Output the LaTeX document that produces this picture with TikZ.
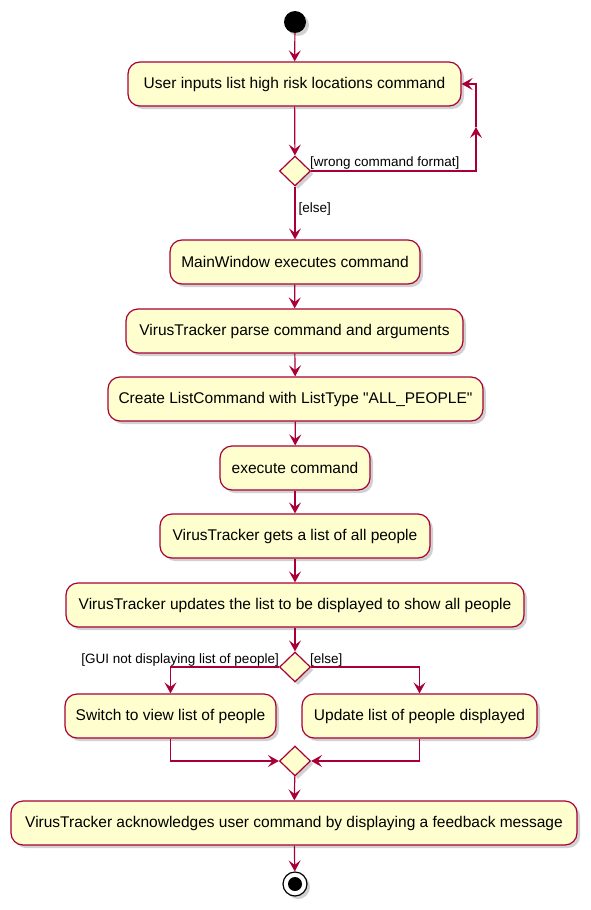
\documentclass[tikz,border=0pt]{standalone}
\usepackage{fontspec}
\setmainfont{Liberation Sans}[Ligatures=NoCommon]
\usetikzlibrary{arrows.meta,shapes.geometric,shadows}
\definecolor{actfill}{HTML}{FEFECE}
\definecolor{actline}{HTML}{A80036}
\tikzset{
  shad/.style={drop shadow={shadow xshift=3pt,shadow yshift=-3pt,opacity=0.3,fill=black!60}},
  act/.style={draw=actline,fill=actfill,line width=1.2pt,rounded corners=12pt,
    minimum height=44pt,inner sep=0pt,font=\fontsize{15.5}{17}\selectfont,shad},
  dec/.style={draw=actline,fill=actfill,line width=1.2pt,diamond,minimum width=31pt,
    minimum height=30pt,inner sep=0pt,shad},
  flow/.style={draw=actline,line width=1.2pt,-{Stealth[length=11pt,width=12pt,inset=4.5pt]}},
  plain/.style={draw=actline,line width=1.2pt},
  lbl/.style={font=\fontsize{13.5}{15}\selectfont,inner sep=0pt}
}
\begin{document}
\begin{tikzpicture}[x=1pt,y=-1pt]
\useasboundingbox (0,0) rectangle (590,910);
\node[circle,fill=black,minimum size=22pt,inner sep=0pt,shad] (start) at (295,22) {};
\node[act,minimum width=333pt] (b1) at (294.5,84) {User inputs list high risk locations command};
\node[dec] (d1) at (295,171) {};
\coordinate (c1) at (476,127);
\node[act,minimum width=250pt] (b2) at (295,262) {MainWindow executes command};
\node[act,minimum width=337pt] (b3) at (294.5,331) {VirusTracker parse command and arguments};
\node[act,minimum width=375pt] (b4) at (295.5,399) {Create ListCommand with ListType \textquotedbl ALL\_PEOPLE\textquotedbl};
\node[act,minimum width=150pt] (b5) at (295,468) {execute command};
\node[act,minimum width=270pt] (b6) at (295,536) {VirusTracker gets a list of all people};
\node[act,minimum width=458pt] (b7) at (295,605) {VirusTracker updates the list to be displayed to show all people};
\node[dec] (d2) at (295,667) {};
\node[act,minimum width=211pt] (b8) at (170.5,716) {Switch to view list of people};
\node[act,minimum width=235pt] (b9) at (419.5,716) {Update list of people displayed};
\node[dec] (m) at (295,761) {};
\node[act,minimum width=566pt] (b10) at (294,823) {VirusTracker acknowledges user command by displaying a feedback message};
\node[circle,draw=black,fill=white,line width=1.2pt,minimum size=24pt,inner sep=0pt,shad] (endo) at (295,884) {};
\node[circle,fill=black,minimum size=14pt,inner sep=0pt] (endi) at (295,884) {};

\draw[flow] (start) -- (b1);
\draw[flow] (b1) -- (d1);
\draw[flow] (d1.east) -| (c1);
\draw[flow] (c1) |- (b1.east);
\node[lbl,anchor=south west] (l1) at (310,169) {[wrong command format]};
\draw[flow] (d1) -- (b2) node[lbl,pos=0.42,anchor=west,xshift=3pt] (l2) {[else]};
\draw[flow] (b2) -- (b3);
\draw[flow] (b3) -- (b4);
\draw[flow] (b4) -- (b5);
\draw[flow] (b5) -- (b6);
\draw[flow] (b6) -- (b7);
\draw[flow] (b7) -- (d2);
\draw[flow] (d2.west) -| (b8.north);
\draw[flow] (d2.east) -| (b9.north);
\node[lbl,anchor=south east] (l3) at (279,666) {[GUI not displaying list of people]};
\node[lbl,anchor=south west] (l4) at (310,666) {[else]};
\draw[flow] (b8.south) |- (m.west);
\draw[flow] (b9.south) |- (m.east);
\draw[flow] (m) -- (b10);
\draw[flow] (b10) -- (endo);
\end{tikzpicture}
\end{document}
